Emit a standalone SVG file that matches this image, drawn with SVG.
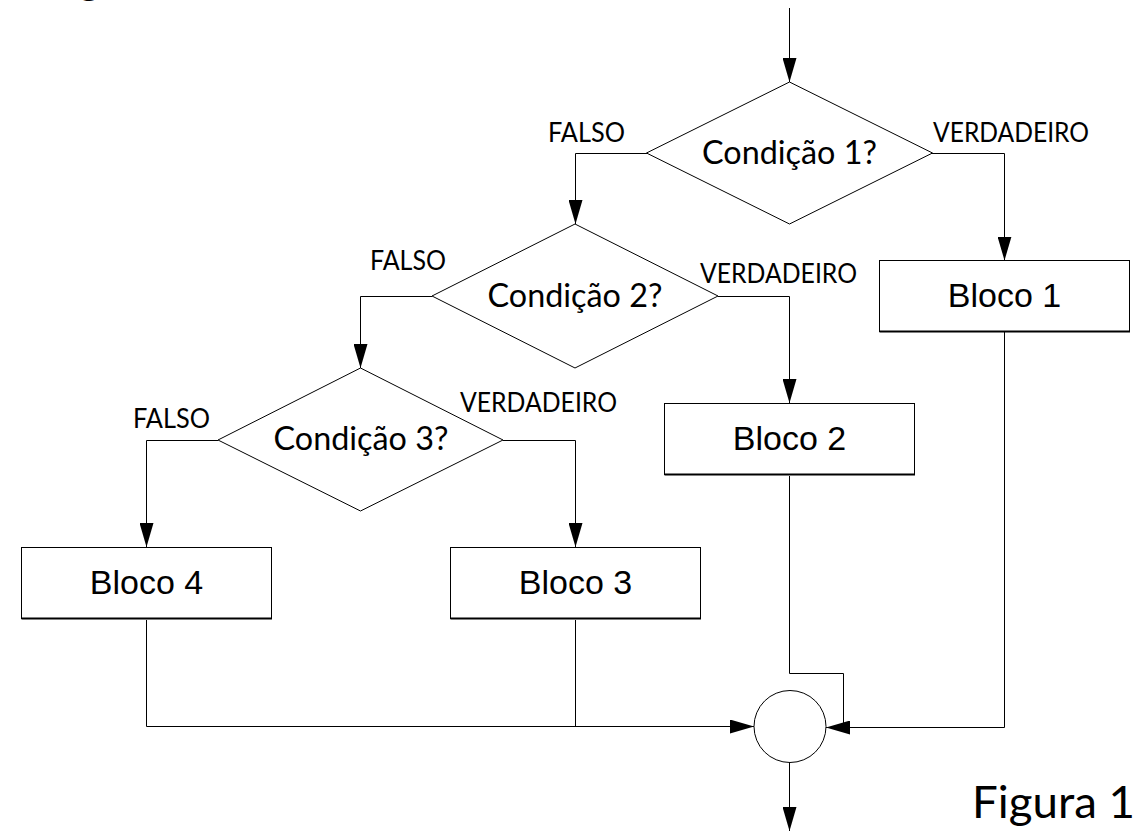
<svg xmlns="http://www.w3.org/2000/svg" width="1137" height="832" viewBox="0 0 1137 832">
<style>
.shape{fill:#fff;stroke:#000;stroke-width:1}
.edge{fill:none;stroke:#000;stroke-width:1}
.bottom{stroke:#000;stroke-width:2}
.cond{font-family:Lato,"Open Sans",sans-serif;font-size:32px;fill:#000;text-anchor:middle}
.lbl{font-family:Lato,"Open Sans",sans-serif;font-size:26px;fill:#000}
.blk{font-family:"Liberation Sans",Arial,sans-serif;font-size:34px;fill:#000;text-anchor:middle}
.big{font-family:Lato,"Open Sans",sans-serif;font-size:44px;fill:#000}
</style>
<defs>
<marker id="arr" markerUnits="userSpaceOnUse" markerWidth="24" markerHeight="14" refX="24" refY="7" orient="auto" viewBox="0 0 24 14">
<path d="M0,0 L24,7 L0,14 Z" fill="#000"/>
</marker>
</defs>
<rect width="1137" height="832" fill="#fff"/>
<text class="big" x="78" y="-7" font-size="64">g</text>
<g id="connectors">
<path class="edge" d="M789.5,8 V82" marker-end="url(#arr)"/>
<path class="edge" d="M647,153.5 H575.5 V224" marker-end="url(#arr)"/>
<path class="edge" d="M932,153.5 H1004.5 V260.5" marker-end="url(#arr)"/>
<path class="edge" d="M432,296.5 H360.5 V368" marker-end="url(#arr)"/>
<path class="edge" d="M718,296.5 H789.5 V403" marker-end="url(#arr)"/>
<path class="edge" d="M218,440.5 H146.5 V547" marker-end="url(#arr)"/>
<path class="edge" d="M503,440.5 H575.5 V547" marker-end="url(#arr)"/>
<path class="edge" d="M146.5,620 V726.5 H754" marker-end="url(#arr)"/>
<path class="edge" d="M575.5,620 V726.5"/>
<path class="edge" d="M789.5,476 V673.5 H843.5 V727"/>
<path class="edge" d="M1004.5,332 V727.5 H826" marker-end="url(#arr)"/>
<path class="edge" d="M789.5,762 V831" marker-end="url(#arr)"/>
</g>
<g id="cond1">
<polygon class="shape" points="789.5,82 932.5,153 789.5,224 646.5,153"/>
<text class="cond" x="789.5" y="164" textLength="175" lengthAdjust="spacingAndGlyphs">Condição 1?</text>
</g>
<g id="cond2">
<polygon class="shape" points="575,224 718,296 575,368 432,296"/>
<text class="cond" x="575" y="307" textLength="175" lengthAdjust="spacingAndGlyphs">Condição 2?</text>
</g>
<g id="cond3">
<polygon class="shape" points="360.5,368 503,440 360.5,511 218,440"/>
<text class="cond" x="361" y="450" textLength="175" lengthAdjust="spacingAndGlyphs">Condição 3?</text>
</g>
<g id="labels">
<text class="lbl" x="548" y="142" textLength="77" lengthAdjust="spacingAndGlyphs">FALSO</text>
<text class="lbl" x="933" y="142" textLength="156" lengthAdjust="spacingAndGlyphs">VERDADEIRO</text>
<text class="lbl" x="370" y="270" textLength="76" lengthAdjust="spacingAndGlyphs">FALSO</text>
<text class="lbl" x="700" y="283" textLength="157" lengthAdjust="spacingAndGlyphs">VERDADEIRO</text>
<text class="lbl" x="133" y="428" textLength="77" lengthAdjust="spacingAndGlyphs">FALSO</text>
<text class="lbl" x="460" y="412" textLength="157" lengthAdjust="spacingAndGlyphs">VERDADEIRO</text>
</g>
<g id="bloco1">
<rect class="shape" x="879.5" y="260.5" width="250" height="71"/>
<line class="bottom" x1="879.5" y1="331.5" x2="1130" y2="331.5"/>
<text class="blk" x="1004.5" y="306.5">Bloco 1</text>
</g>
<g id="bloco2">
<rect class="shape" x="664.5" y="403.5" width="250" height="71"/>
<line class="bottom" x1="664.5" y1="474.5" x2="915" y2="474.5"/>
<text class="blk" x="789.5" y="449.5">Bloco 2</text>
</g>
<g id="bloco3">
<rect class="shape" x="450.5" y="547.5" width="250" height="71"/>
<line class="bottom" x1="450.5" y1="618.5" x2="701" y2="618.5"/>
<text class="blk" x="575.5" y="593.5">Bloco 3</text>
</g>
<g id="bloco4">
<rect class="shape" x="21.5" y="547.5" width="250" height="71"/>
<line class="bottom" x1="21.5" y1="618.5" x2="272" y2="618.5"/>
<text class="blk" x="146.5" y="593.5">Bloco 4</text>
</g>
<g id="merge">
<circle class="shape" cx="790" cy="726.5" r="36"/>
</g>
<text class="big" x="972" y="818" textLength="163" lengthAdjust="spacingAndGlyphs">Figura 1</text>
</svg>
